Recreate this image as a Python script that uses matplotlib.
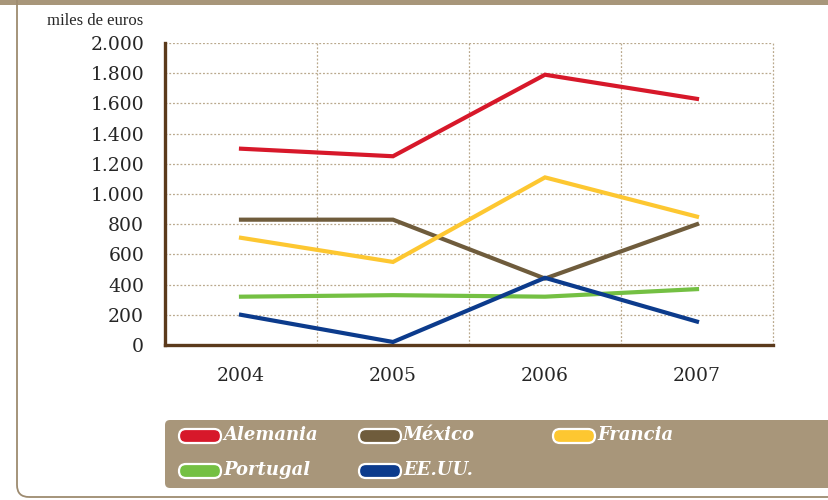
import matplotlib
matplotlib.use("Agg")
import matplotlib.pyplot as plt
from matplotlib.patches import FancyBboxPatch, Rectangle
from matplotlib.transforms import IdentityTransform

# Data (miles de euros)
years = ["2004", "2005", "2006", "2007"]
alemania = [1300, 1250, 1790, 1630]
mexico = [830, 830, 440, 800]
francia = [710, 550, 1110, 850]
portugal = [320, 330, 320, 370]
eeuu = [200, 20, 445, 155]

series_names = ["Alemania", "México", "Francia", "Portugal", "EE.UU."]
series_values = [alemania, mexico, francia, portugal, eeuu]
colors = ["#d7182a", "#6f5c3c", "#fdc731", "#74c043", "#0c3b8c"]

yticks = list(range(0, 2001, 200))
ytick_labels = ["0" if v == 0 else f"{v:,}".replace(",", ".") for v in yticks]

tan = "#a8967a"
brown = "#5b3a1c"
grid_col = "#b9a88c"

plt.rcParams["font.family"] = ["DejaVu Serif"]

W, H = 829, 500
fig = plt.figure(figsize=(W / 100, H / 100), dpi=100)
ax = fig.add_axes([165 / W, 1 - 345 / H, 608 / W, 302 / H])

x = list(range(len(years)))
for name, vals, c in zip(series_names, series_values, colors):
    ax.plot(x, vals, color=c, lw=3.0, solid_joinstyle="miter", zorder=3)

ax.set_xlim(-0.5, len(years) - 0.5)
ax.set_ylim(0, 2000)
ax.set_yticks(yticks)
ax.set_yticklabels(ytick_labels, fontsize=13.5, color="#262626")
ax.set_xticks(x)
ax.set_xticklabels(years, fontsize=13.5, color="#262626")
ax.tick_params(axis="both", length=0)
ax.tick_params(axis="y", pad=15)
ax.tick_params(axis="x", pad=16)

# dotted grid
for v in yticks[1:]:
    ax.axhline(v, color=grid_col, lw=0.9, ls=(0, (1.5, 1.5)), zorder=1)
for b in [0.5, 1.5, 2.5, 3.5]:
    ax.axvline(b, color=grid_col, lw=0.9, ls=(0, (1.5, 1.5)), zorder=1, clip_on=False)

for s in ["top", "right"]:
    ax.spines[s].set_visible(False)
for s in ["left", "bottom"]:
    ax.spines[s].set_color(brown)
    ax.spines[s].set_linewidth(2.4)

fig.text(143 / W, 1 - 21 / H, "miles de euros", fontsize=12, color="#262626",
         va="center", ha="right", family="Liberation Serif")

# page frame
ident = IdentityTransform()
fig.add_artist(Rectangle((0, H - 5), W, 5, transform=ident, color=tan, lw=0))
fig.add_artist(FancyBboxPatch((17, 3), 900, 600, boxstyle="round,pad=0,rounding_size=12",
                              transform=ident, fc="none", ec="#9d8b70", lw=1.3))

# legend box
fig.add_artist(FancyBboxPatch((165, H - 488), 700, 68, boxstyle="round,pad=0,rounding_size=5",
                              transform=ident, fc=tan, ec="none"))
pill_pos = [(178, 436), (358, 436), (552, 436), (178, 471), (358, 471)]
for (px, py), name, c in zip(pill_pos, series_names, colors):
    fig.add_artist(FancyBboxPatch((px + 1, H - py - 7), 42, 14,
                                  boxstyle="round,pad=0,rounding_size=7",
                                  transform=ident, fc=c, ec="white", lw=1.6))
    fig.text((px + 45) / W, 1 - (py - 1) / H, name, fontsize=13, color="white",
             style="italic", weight="bold", va="center", ha="left")

fig.savefig("out.png", dpi=100)
